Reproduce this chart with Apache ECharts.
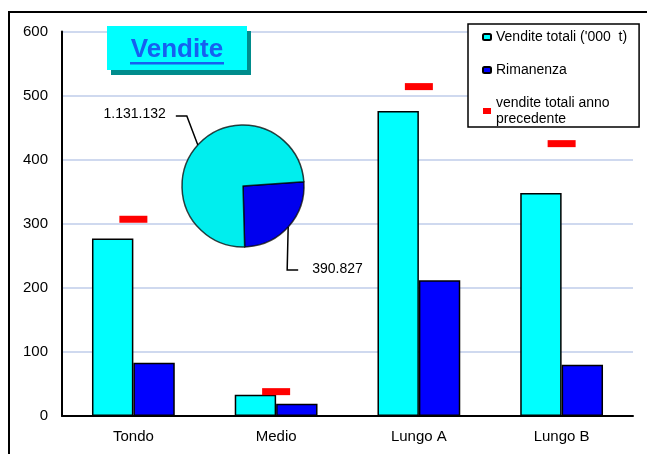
<!DOCTYPE html>
<html>
<head>
<meta charset="utf-8">
<script src="https://cdn.jsdelivr.net/npm/echarts@6/dist/echarts.min.js"></script>
<style>
  html, body { margin: 0; padding: 0; background: #fff; }
  #chart { width: 647px; height: 454px; }
</style>
</head>
<body>
<div id="chart"></div>
<script>
// dati
var categories = ['Tondo', 'Medio', 'Lungo A', 'Lungo B'];
var venditeTotali = [277, 33, 476, 348];
var rimanenza = [83, 19, 212, 80];
var annoPrecedente = [307, 38, 514, 425];
var yTicks = [0, 100, 200, 300, 400, 500, 600];
var pieNames = ['Rimanenza totale', 'Vendite totali'];
var pieValues = [390827, 1131132];
var pieLabels = ['390.827', '1.131.132'];

var seriesNames = ["Vendite totali ('000  t)", 'Rimanenza', 'vendite totali anno\nprecedente'];
var font = 'Arial, "Liberation Sans", sans-serif';

var chart = echarts.init(document.getElementById('chart'));

var option = {
  animation: false,
  backgroundColor: '#fff',
  textStyle: { fontFamily: font },
  graphic: [
    // cornice esterna
    {
      type: 'rect', left: 8, top: 11, z: 0, silent: true,
      shape: { width: 700, height: 500 },
      style: { fill: 'transparent', stroke: '#000', lineWidth: 2 }
    },
    // riquadro titolo (ombra, fondo, testo, sottolineatura)
    { type: 'rect', z: 100, shape: { x: 111, y: 31, width: 140, height: 44 }, style: { fill: '#008c8c' } },
    { type: 'rect', z: 101, shape: { x: 107, y: 26, width: 140, height: 44 }, style: { fill: '#00ffff' } },
    {
      type: 'text', z: 102, x: 177, y: 50,
      style: { text: 'Vendite', fill: '#1660f0', font: 'bold 26px ' + font, align: 'center', verticalAlign: 'middle' }
    },
    { type: 'rect', z: 102, shape: { x: 130, y: 62, width: 94, height: 2.5 }, style: { fill: '#1660f0' } }
  ],
  legend: {
    orient: 'vertical',
    left: 468,
    top: 24,
    data: seriesNames,
    itemWidth: 8,
    itemHeight: 6,
    itemGap: 17,
    padding: [5, 12, 0, 14],
    borderColor: '#000',
    borderWidth: 1.5,
    backgroundColor: '#fff',
    textStyle: { fontSize: 14, color: '#000', lineHeight: 16, fontFamily: font },
    z: 20
  },
  grid: { left: 62, right: 14, top: 31.5, bottom: 38 },
  xAxis: {
    type: 'category',
    data: categories,
    axisLine: { lineStyle: { color: '#000', width: 2 } },
    axisTick: { show: false },
    axisLabel: { color: '#000', fontSize: 15, margin: 13 }
  },
  yAxis: {
    type: 'value',
    min: yTicks[0],
    max: yTicks[yTicks.length - 1],
    interval: 100,
    axisLine: { show: true, lineStyle: { color: '#000', width: 2 } },
    axisTick: { show: false },
    axisLabel: { color: '#000', fontSize: 15, margin: 14 },
    splitLine: { lineStyle: { color: '#cfd9ef', width: 2 } }
  },
  series: [
    {
      name: seriesNames[0],
      type: 'bar',
      data: venditeTotali,
      barGap: '0%',
      barCategoryGap: '42%',
      itemStyle: { color: '#00ffff', borderColor: '#000', borderWidth: 1.5 }
    },
    {
      name: seriesNames[1],
      type: 'bar',
      data: rimanenza,
      itemStyle: { color: '#0000ff', borderColor: '#000', borderWidth: 1.5 }
    },
    {
      name: seriesNames[2],
      type: 'scatter',
      data: annoPrecedente,
      symbol: 'rect',
      symbolSize: [28, 7],
      itemStyle: { color: '#ff0000', opacity: 1 },
      z: 5
    },
    {
      name: 'Totale',
      type: 'pie',
      center: [243, 186],
      radius: 61,
      startAngle: 4,
      clockwise: true,
      data: pieValues.map(function (v, i) {
        return {
          name: pieNames[i],
          value: v,
          itemStyle: { color: i === 0 ? '#0000ee' : '#00eeee' },
          label: { formatter: pieLabels[i] }
        };
      }),
      itemStyle: { borderColor: 'rgba(0,0,0,0.75)', borderWidth: 1.5 },
      label: { show: true, position: 'outside', color: '#000', fontSize: 14, fontFamily: font },
      labelLine: { show: true, length: 20, length2: 10, smooth: false, lineStyle: { color: '#000', width: 1.5 } },
      labelLayout: function (params) {
        var p = params.labelLinePoints;
        if (!p || !p[0]) return {};
        var e = p[0];
        if (params.dataIndex === 1) {
          return {
            x: e[0] - 32, y: e[1] - 31, align: 'right', verticalAlign: 'middle',
            labelLinePoints: [e, [e[0] - 11, e[1] - 29], [e[0] - 22, e[1] - 29]]
          };
        }
        return {
          x: e[0] + 24, y: e[1] + 42, align: 'left', verticalAlign: 'middle',
          labelLinePoints: [e, [e[0] - 1, e[1] + 43], [e[0] + 10, e[1] + 43]]
        };
      },
      emphasis: { disabled: true },
      z: 4
    }
  ]
};

chart.setOption(option);
</script>
</body>
</html>
